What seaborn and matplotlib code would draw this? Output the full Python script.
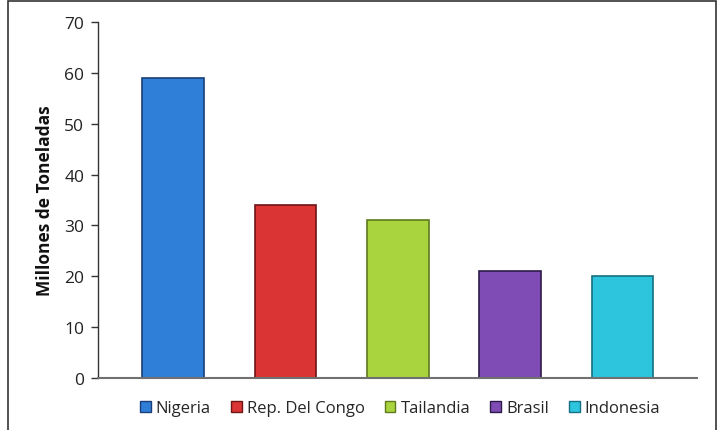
import matplotlib
matplotlib.use("Agg")
import matplotlib.pyplot as plt
import seaborn as sns
import pandas as pd
from matplotlib.patches import Patch, Rectangle

paises = ["Nigeria", "Rep. Del Congo", "Tailandia", "Brasil", "Indonesia"]
valores = [59, 34, 31, 21, 20]
colores = ["#2F7ED8", "#DA3434", "#AAD43E", "#7F4CB6", "#2DC5DE"]
bordes = ["#1A3F78", "#6E1515", "#5E7A1E", "#2E1A4A", "#147082"]
yticks = [0, 10, 20, 30, 40, 50, 60, 70]

sns.set_theme(style="white")
plt.rcParams['font.family'] = ['Open Sans', 'DejaVu Sans']

df = pd.DataFrame({"pais": paises, "valor": valores})

fig = plt.figure(figsize=(7.17, 4.31), dpi=100)
ax = fig.add_axes([0.1367, 0.1206, 0.835, 0.826])
sns.barplot(data=df, x="pais", y="valor", hue="pais", palette=colores,
            width=0.55, legend=False, ax=ax, saturation=1)
for bar, ec in zip(ax.patches, bordes):
    bar.set_edgecolor(ec)
    bar.set_linewidth(1.2)

ax.set_xlim(-0.67, 4.66)
ax.set_ylim(0, 70)
ax.set_yticks(yticks)
ax.set_yticklabels([str(t) for t in yticks], fontsize=12.5, color="#222222")
ax.set_xticks([])
ax.set_xlabel("")
ax.set_ylabel("Millones de Toneladas", fontsize=12.5, fontweight="bold", color="#111111", labelpad=7)
ax.tick_params(axis="y", direction="out", length=5, width=1, color="#333333", left=True, pad=5)
for s in ["top", "right"]:
    ax.spines[s].set_visible(False)
ax.spines["left"].set_color("#333333")
ax.spines["left"].set_linewidth(1)
ax.spines["bottom"].set_color("#707070")
ax.spines["bottom"].set_linewidth(1.5)

handles = [Patch(facecolor=c, edgecolor=e, linewidth=1) for c, e in zip(colores, bordes)]
fig.legend(handles, paises, loc="center", bbox_to_anchor=(0.558, 0.05), ncol=5,
           frameon=False, fontsize=12, handlelength=0.65, handleheight=0.65,
           handletextpad=0.3, columnspacing=1.2)

fig.patches.append(Rectangle((0.011, -0.01), 0.987, 1.006, transform=fig.transFigure,
                             fill=False, edgecolor="#333333", linewidth=1.2))

fig.savefig("out.png", dpi=100)
